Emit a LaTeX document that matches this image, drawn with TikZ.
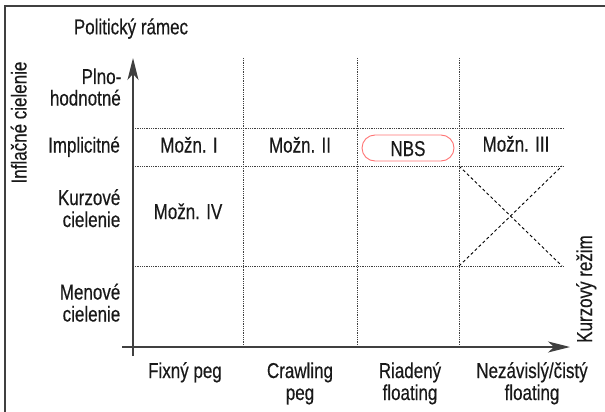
\documentclass[tikz,border=0pt]{standalone}
\usepackage{fontspec}
\setmainfont[FakeStretch=0.79,FakeBold=0.4]{Liberation Sans}
\usetikzlibrary{arrows.meta,shapes.misc}
\begin{document}
\begin{tikzpicture}[x=1pt,y=-1pt,
  lbl/.style={font=\fontsize{21.5}{22}\selectfont,inner sep=0pt,anchor=base,text=black!90},
  rlbl/.style={lbl,anchor=base east},
  gridline/.style={line width=0.8pt,densely dotted,black!75},
  axis/.style={line width=1.3pt,black!75},
  crossline/.style={line width=0.9pt,dash pattern=on 3pt off 2.5pt},
  nbsbox/.style={draw=red!55,line width=0.9pt,rounded rectangle,minimum width=92pt,minimum height=26pt,inner sep=0pt}]
\useasboundingbox (0,0) rectangle (605,412);
\draw[line width=1.5pt,black!75] (5,414) -- (5,6) -- (607,6);
% coordinates
\coordinate (ytop) at (133,58);
\coordinate (ybot) at (133,356);
\coordinate (xl) at (122,347);
\coordinate (xr) at (570,347);
% grid
\foreach \x/\n in {243/a,357/b,459/c}{
  \coordinate (v\n t) at (\x,58);
  \coordinate (v\n b) at (\x,347);
  \draw[gridline] (v\n t) -- (v\n b);
}
\foreach \y/\n in {128/a,166/b,266/c}{
  \coordinate (h\n l) at (133,\y);
  \coordinate (h\n r) at (564,\y);
  \draw[gridline] (h\n l) -- (h\n r);
}
% cross
\coordinate (c1) at (459,166);
\coordinate (c2) at (562,266);
\coordinate (c3) at (459,266);
\coordinate (c4) at (562,166);
\draw[crossline] (c1) -- (c2);
\draw[crossline] (c3) -- (c4);
% axes
\draw[axis,-{Stealth[length=22pt,width=11pt,inset=6pt]}] (ybot) -- (ytop);
\draw[axis,-{Stealth[length=22pt,width=11pt,inset=6pt]}] (xl) -- (xr);
% titles
\node[lbl] (pr) at (131,34.3) {Politický rámec};
\node[lbl,rotate=90] (ic) at (26.5,122.5) {Inflačné cielenie};
\node[lbl,rotate=90] (kr) at (592,289) {Kurzový režim};
% row labels
\node[rlbl] (r1a) at (121.5,84) {Plno-};
\node[rlbl] (r1b) at (121,105.5) {hodnotné};
\node[lbl] (r2) at (84,152.5) {Implicitné};
\node[rlbl] (r3a) at (120.5,205) {Kurzové};
\node[rlbl] (r3b) at (120.5,227) {cielenie};
\node[rlbl] (r4a) at (120.5,299.5) {Menové};
\node[rlbl] (r4b) at (120.5,321.5) {cielenie};
% column labels
\node[lbl] (c1l) at (185,378) {Fixný peg};
\node[lbl] (c2a) at (300,378) {Crawling};
\node[lbl] (c2b) at (300,400) {peg};
\node[lbl] (c3a) at (410,378) {Riadený};
\node[lbl] (c3b) at (410,400) {floating};
\node[lbl] (c4a) at (532,378) {Nezávislý/čistý};
\node[lbl] (c4b) at (532,400) {floating};
% cells
\node[lbl] (m1) at (189,152.5) {Možn. I};
\node[lbl] (m2) at (300,152.5) {Možn. II};
\node[nbsbox] (nbs) at (408,148) {};
\node[lbl] (nbst) at (nbs.center) [yshift=-8pt] {NBS};
\node[lbl] (m3) at (516,151.5) {Možn. III};
\node[lbl] (m4) at (188,219) {Možn. IV};
\end{tikzpicture}
\end{document}
